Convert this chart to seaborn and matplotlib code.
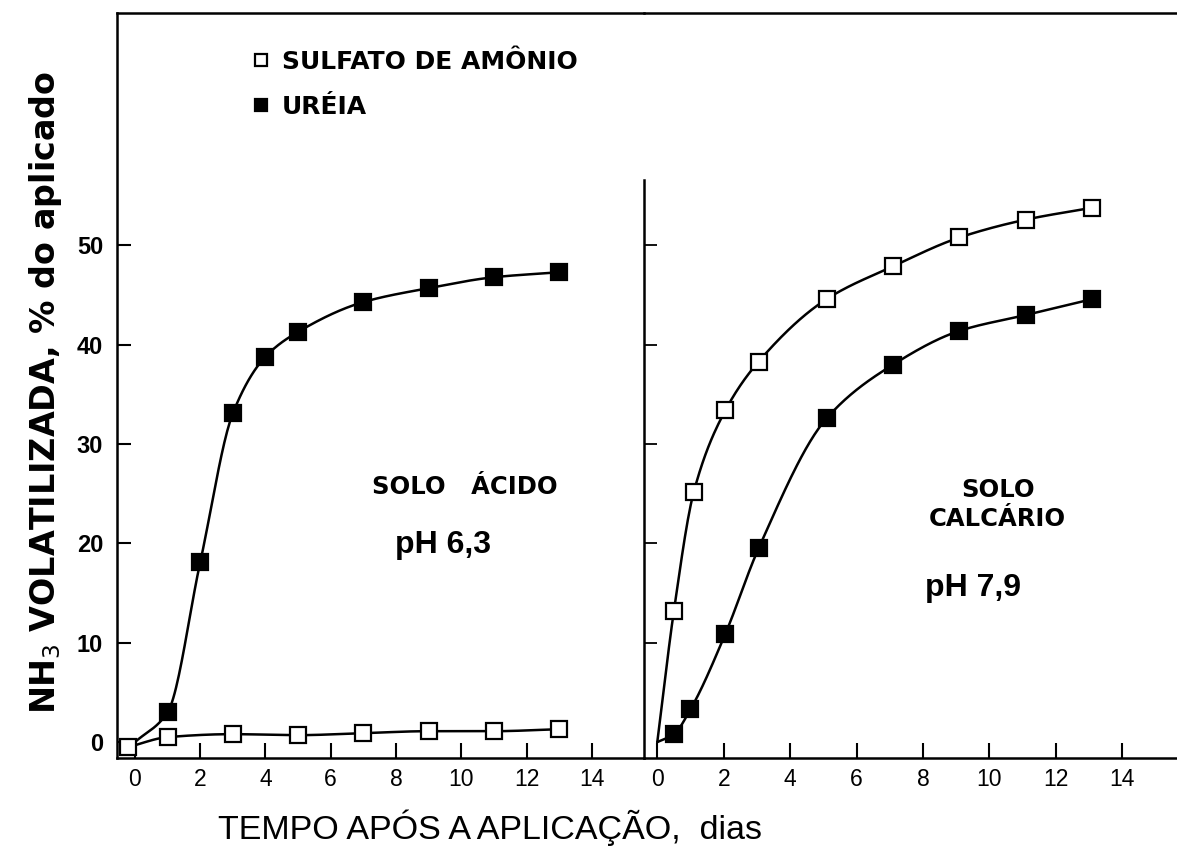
import numpy as np
import pandas as pd
import matplotlib
matplotlib.use("Agg")
import matplotlib.pyplot as plt
from matplotlib.lines import Line2D
import seaborn as sns

# ---- data: NH3 volatilised (% of applied N) vs days after application ----
# acid soil, pH 6,3
acid_sulf_days = [-0.2, 1, 3, 5, 7, 9, 11, 13]
acid_sulf_vals = [-0.5, 0.5, 0.8, 0.7, 0.9, 1.1, 1.1, 1.3]
acid_urea_days = [0, 1, 2, 3, 4, 5, 7, 9, 11, 13]
acid_urea_vals = [0.0, 3.0, 18.1, 33.1, 38.8, 41.3, 44.3, 45.7, 46.8, 47.3]

# calcareous soil, pH 7,9
calc_sulf_days = [0, 0.5, 1.1, 2.05, 3.05, 5.1, 7.1, 9.1, 11.1, 13.1]
calc_sulf_vals = [0.0, 13.2, 25.2, 33.4, 38.3, 44.6, 47.9, 50.8, 52.6, 53.8]
calc_urea_days = [0, 0.5, 1.0, 2.05, 3.05, 5.1, 7.1, 9.1, 11.1, 13.1]
calc_urea_vals = [0.0, 0.8, 3.3, 10.9, 19.5, 32.6, 38.0, 41.4, 43.0, 44.6]

x_ticks = [0, 2, 4, 6, 8, 10, 12, 14]
y_ticks = [0, 10, 20, 30, 40, 50]

legend_labels = ["SULFATO DE AMÔNIO", "URÉIA"]


def pchip_curve(x, y, n=300):
    """Monotone cubic (PCHIP) curve through the points, for a smooth line."""
    x = np.asarray(x, float)
    y = np.asarray(y, float)
    h = np.diff(x)
    d = np.diff(y) / h
    m = np.zeros_like(y)
    for k in range(1, len(x) - 1):
        if d[k - 1] * d[k] > 0:
            w1 = 2 * h[k] + h[k - 1]
            w2 = h[k] + 2 * h[k - 1]
            m[k] = (w1 + w2) / (w1 / d[k - 1] + w2 / d[k])
    m[0] = d[0]
    m[-1] = d[-1]
    xs = np.linspace(x[0], x[-1], n)
    idx = np.clip(np.searchsorted(x, xs) - 1, 0, len(x) - 2)
    t = (xs - x[idx]) / h[idx]
    h00 = 2 * t**3 - 3 * t**2 + 1
    h10 = t**3 - 2 * t**2 + t
    h01 = -2 * t**3 + 3 * t**2
    h11 = t**3 - t**2
    ys = h00 * y[idx] + h10 * h[idx] * m[idx] + h01 * y[idx + 1] + h11 * h[idx] * m[idx + 1]
    return pd.DataFrame({"dias": xs, "nh3": ys})


sns.set_theme(style="ticks")
plt.rcParams["font.family"] = ["Liberation Sans", "DejaVu Sans"]
for key in ("text.color", "axes.labelcolor", "xtick.color", "ytick.color", "axes.edgecolor"):
    plt.rcParams[key] = "black"

LETTERING = "DejaVu Sans"

W, H = 1177, 852
fig = plt.figure(figsize=(W / 100, H / 100), dpi=100)
bottom_px, top_px = 758, 13
ax1 = fig.add_axes([117 / W, (H - bottom_px) / H, (644 - 117) / W, (bottom_px - top_px) / H])
ax2 = fig.add_axes([644 / W, (H - bottom_px) / H, (W - 644) / W, (bottom_px - top_px) / H])

YLIM = (-1.6, 73.4)
LW = 1.8
MS = 11


def draw_series(ax, days, vals, filled, marker_from=0):
    curve = pchip_curve(days, vals)
    sns.lineplot(data=curve, x="dias", y="nh3", ax=ax, color="black", lw=LW,
                 estimator=None, sort=False, legend=False)
    pts = pd.DataFrame({"dias": days[marker_from:], "nh3": vals[marker_from:]})
    ax.plot(pts["dias"], pts["nh3"], ls="none", marker="s", ms=MS,
            mfc="black" if filled else "white", mec="black", mew=1.6, zorder=5)


# left panel: acid soil
draw_series(ax1, acid_sulf_days, acid_sulf_vals, filled=False)
draw_series(ax1, acid_urea_days, acid_urea_vals, filled=True, marker_from=1)

# right panel: calcareous soil
draw_series(ax2, calc_sulf_days, calc_sulf_vals, filled=False, marker_from=1)
draw_series(ax2, calc_urea_days, calc_urea_vals, filled=True, marker_from=1)

for ax in (ax1, ax2):
    ax.set_ylim(*YLIM)
    ax.set_xticks(x_ticks)
    ax.set_xticklabels([str(v) for v in x_ticks], fontsize=16.5)
    ax.tick_params(axis="x", direction="in", length=11, width=1.5, pad=7, colors="black")
    ax.set_xlabel("")
    ax.set_ylabel("")
    ax.spines["right"].set_visible(False)
    for s in ("top", "bottom", "left"):
        ax.spines[s].set_linewidth(1.8)
        ax.spines[s].set_color("black")
    ax.set_facecolor("none")

ax1.set_xlim(-0.55, 15.6)
ax2.set_xlim(-0.4, 15.65)

ax1.set_yticks(y_ticks)
ax1.set_yticklabels([str(v) for v in y_ticks], fontsize=17, fontweight="bold")
ax1.tick_params(axis="y", direction="in", length=10, width=1.5, pad=10, colors="black")

ax2.set_yticks(y_ticks[1:])
ax2.set_yticklabels([])
ax2.tick_params(axis="y", direction="in", length=9, width=1.3)
ax2.spines["left"].set_bounds(YLIM[0], 56.6)

# axis titles
fig.text(46 / W, 1 - 392 / H, "NH$_3$ VOLATILIZADA, % do aplicado", rotation=90,
         ha="center", va="center", fontsize=24, fontweight="bold", family=LETTERING)
fig.text(490 / W, 1 - 828 / H, "TEMPO APÓS A APLICAÇÃO,  dias",
         ha="center", va="center", fontsize=24.5)

# legend
handles = [
    Line2D([], [], ls="none", marker="s", ms=8.5, mfc="white", mec="black", mew=1.6),
    Line2D([], [], ls="none", marker="s", ms=8.5, mfc="black", mec="black", mew=1.6),
]
ax1.legend(handles, legend_labels, loc="upper left", bbox_to_anchor=(0.24, 0.964),
           frameon=False, prop={"size": 18, "family": LETTERING, "weight": "bold"},
           handlelength=0.6, handletextpad=0.55, labelspacing=0.85, borderaxespad=0)

# panel annotations
ax1.text(10.1, 25.7, "SOLO   ÁCIDO", ha="center", va="center", fontsize=17.5,
         family=LETTERING, fontweight="bold")
ax1.text(9.45, 19.8, "pH 6,3", ha="center", va="center", fontsize=23, fontweight="bold")
ax2.text(10.25, 23.9, "SOLO\nCALCÁRIO", ha="center", va="center", fontsize=17.5,
         family=LETTERING, fontweight="bold", linespacing=1.25)
ax2.text(9.5, 15.5, "pH 7,9", ha="center", va="center", fontsize=23, fontweight="bold")

fig.savefig("out.png", dpi=100, facecolor="white")
